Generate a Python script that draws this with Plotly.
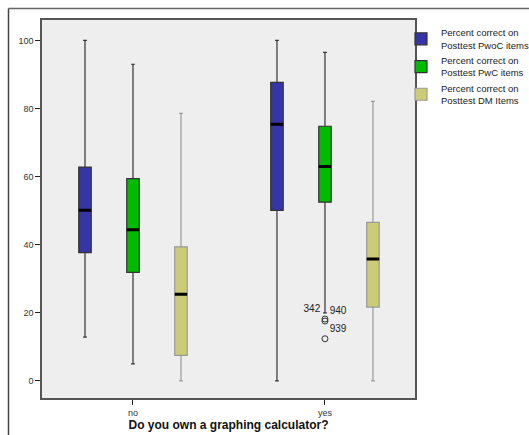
import plotly.graph_objects as go

categories = ["no", "yes"]
series_names = [
    "Percent correct on<br>Posttest PwoC items",
    "Percent correct on<br>Posttest PwC items",
    "Percent correct on<br>Posttest DM Items",
]
lower_whisker = [[12.9, 0.0], [5.0, 20.0], [0.0, 0.0]]
q1_vals = [[37.7, 50.1], [31.9, 52.5], [7.5, 21.7]]
median_vals = [[50.1, 75.4], [44.4, 63.0], [25.5, 35.8]]
q3_vals = [[62.8, 87.7], [59.4, 74.8], [39.4, 46.6]]
upper_whisker = [[100.0, 100.0], [93.0, 96.5], [78.6, 82.1]]
colors = ["#3535A8", "#00BB00", "#CCCC77"]
whisker_colors = ["#333333", "#333333", "#999999"]

outlier_cat = ["yes", "yes", "yes"]
outlier_vals = [18.2, 17.6, 12.4]
outlier_ids = ["342", "940", "939"]
outlier_textpos = ["top left", "top right", "top right"]

W, H = 529, 435
ML, MT, MR, MB = 42, 20, 114, 37
PW, PH = W - ML - MR, H - MT - MB
FRAME = 8.5

fig = go.Figure()
for i in range(3):
    fig.add_trace(go.Box(
        x=categories, q1=q1_vals[i], median=median_vals[i], q3=q3_vals[i],
        lowerfence=lower_whisker[i], upperfence=upper_whisker[i],
        name=series_names[i], offsetgroup=str(i),
        fillcolor=colors[i], line=dict(color=whisker_colors[i], width=1.2),
        whiskerwidth=0.3, boxpoints=False,
    ))
    fig.add_trace(go.Box(
        x=categories, q1=median_vals[i], median=median_vals[i], q3=median_vals[i],
        lowerfence=median_vals[i], upperfence=median_vals[i],
        name=series_names[i], offsetgroup=str(i), showlegend=False,
        fillcolor="rgba(0,0,0,0)", line=dict(color="black", width=3),
        whiskerwidth=0, boxpoints=False, hoverinfo="skip",
    ))

fig.add_trace(go.Scatter(
    x=outlier_cat, y=outlier_vals, mode="markers+text", text=outlier_ids,
    textposition=outlier_textpos, textfont=dict(size=10, color="#222", family="Arial"),
    marker=dict(symbol="circle-open", size=6, color="#333", line=dict(width=1)),
    showlegend=False, cliponaxis=False,
))

fig.update_layout(
    width=W, height=H,
    margin=dict(l=ML, r=MR, t=MT, b=MB, autoexpand=False),
    paper_bgcolor="white", plot_bgcolor="#EEEEEE",
    boxmode="group", boxgap=0.25, boxgroupgap=0.74,
    font=dict(family="Arial", size=9, color="#333"),
    legend=dict(x=(PW - 14) / PW, y=1.0, xanchor="left", yanchor="top",
                font=dict(size=9.5, color="#222"), tracegroupgap=0,
                itemwidth=30, bgcolor="rgba(0,0,0,0)"),
    shapes=[
        dict(type="line", xref="paper", yref="paper",
             x0=-(ML - FRAME) / PW, x1=(W - ML) / PW,
             y0=1 + (MT - FRAME) / PH, y1=1 + (MT - FRAME) / PH,
             line=dict(color="#666", width=1.5)),
        dict(type="line", xref="paper", yref="paper",
             x0=-(ML - FRAME) / PW, x1=-(ML - FRAME) / PW,
             y0=1 + (MT - FRAME) / PH, y1=-MB / PH,
             line=dict(color="#444", width=1.5)),
    ],
)
fig.update_xaxes(
    type="category", range=[-0.474, 1.469],
    showline=True, linecolor="#555", linewidth=1.5, mirror=True,
    ticks="outside", ticklen=5, tickcolor="#222", showgrid=False,
    title=dict(text="<b>Do you own a graphing calculator?</b>",
               font=dict(size=12, color="#111", family="Arial"), standoff=4),
)
fig.update_yaxes(
    range=[-5, 106], tickvals=[0, 20, 40, 60, 80, 100],
    showline=True, linecolor="#555", linewidth=1.5, mirror=True,
    ticks="outside", ticklen=5, tickcolor="#222", showgrid=False, zeroline=False,
)

fig.write_html(
    "out.html",
    config={"displayModeBar": False},
    post_script="document.body.style.margin='0';document.body.style.overflow='hidden';",
)
